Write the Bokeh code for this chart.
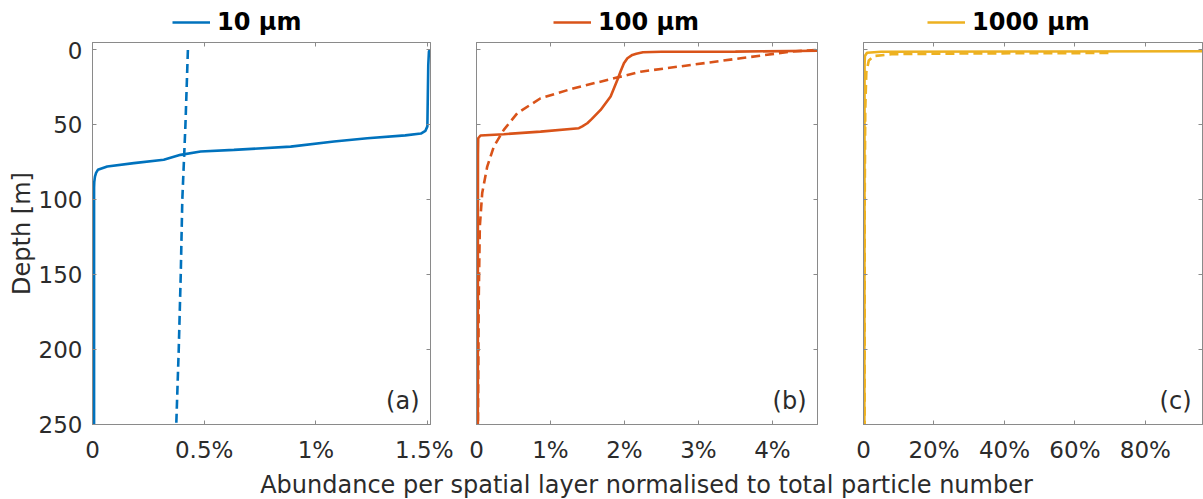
from bokeh.plotting import figure
from bokeh.models import (Range1d, FixedTicker, LinearAxis, Legend, LegendItem,
                          Label, Div, CustomJSTickFormatter)
from bokeh.layouts import row, column
from bokeh.embed import file_html
from bokeh.resources import INLINE

# ---------------- data (abundance in %, depth in m) ----------------
# (a) 10 um
a_solid_depth = [0, 1, 10, 30, 51, 54, 55.8, 57, 58.9, 61.1, 64.5, 66.7, 67.8, 70,
                 73.3, 75.5, 77.8, 80, 82, 84.5, 88, 92, 120, 180, 250]
a_solid_abund = [1.512, 1.506, 1.503, 1.501, 1.499, 1.49, 1.47, 1.40, 1.23, 1.081,
                 0.887, 0.633, 0.484, 0.394, 0.319, 0.185, 0.066, 0.024, 0.016,
                 0.011, 0.008, 0.007, 0.007, 0.007, 0.007]
a_dash_depth = [0, 50, 100, 150, 200, 250]
a_dash_abund = [0.427, 0.416, 0.402, 0.395, 0.386, 0.375]

# (b) 100 um
b_solid_depth = [0.5, 1.1, 1.2, 1.5, 2.5, 3.3, 5.5, 8.9, 14, 20, 31.1, 40, 46, 48.9,
                 51, 52.2, 54.5, 56.2, 57.1, 58.9, 70, 120, 250]
b_solid_abund = [4.61, 3.5, 2.5, 2.25, 2.16, 2.107, 2.04, 1.993, 1.95, 1.904, 1.813,
                 1.678, 1.56, 1.498, 1.43, 1.384, 0.866, 0.369, 0.054, 0.023,
                 0.02, 0.019, 0.018]
b_dash_depth = [0, 1.1, 5.5, 10, 14.5, 18.9, 25.5, 32.2, 42.2, 53.3, 64.5, 77.8,
                95.5, 117.8, 166.7, 250]
b_dash_abund = [4.587, 4.25, 3.572, 2.896, 2.219, 1.858, 1.317, 0.866, 0.551, 0.369,
                0.234, 0.145, 0.077, 0.045, 0.03, 0.02]

# (c) 1000 um
c_solid_depth = [0.8, 1.0, 1.2, 1.8, 4, 10, 250]
c_solid_abund = [96.2, 50, 5, 1.0, 0.4, 0.3, 0.25]
c_dash_depth = [2.0, 2.3, 2.8, 4, 7, 15, 40, 100, 250]
c_dash_abund = [69.5, 30, 8, 3, 1.5, 0.8, 0.5, 0.35, 0.3]

labels = ["10 μm", "100 μm", "1000 μm"]
panel_ids = ["(a)", "(b)", "(c)"]
x_max = [1.513, 4.61, 96.2]
x_ticks = [[0, 0.5, 1, 1.5], [0, 1, 2, 3, 4], [0, 20, 40, 60, 80]]
y_ticks = [0, 50, 100, 150, 200, 250]
y_top, y_bottom = -5, 250

colors = ["#0072BD", "#D95319", "#EDB120"]
FONT = "DejaVu Sans"
AX_COL = "#8a8a8a"
TXT_COL = "#2b2b2b"

y_range = Range1d(y_bottom, y_top)

specs = [
    dict(width=453, left=92, right=23, leg_x=80),
    dict(width=387, left=23, right=23, leg_x=77),
    dict(width=363, left=23, right=1, leg_x=64),
]
series = [
    (a_solid_abund, a_solid_depth, a_dash_abund, a_dash_depth),
    (b_solid_abund, b_solid_depth, b_dash_abund, b_dash_depth),
    (c_solid_abund, c_solid_depth, c_dash_abund, c_dash_depth),
]

pct_fmt = CustomJSTickFormatter(code="return tick == 0 ? '0' : tick + '%';")
blank_fmt = CustomJSTickFormatter(code="return '';")

LEG_H = 38


def style_axis(ax, labelled):
    ax.axis_line_color = AX_COL
    ax.major_tick_line_color = AX_COL
    ax.major_tick_in = 4
    ax.major_tick_out = 0
    ax.minor_tick_line_color = None
    ax.major_label_text_font = FONT
    ax.major_label_text_font_size = "23px"
    ax.major_label_text_color = TXT_COL
    if not labelled:
        ax.major_label_standoff = 0
        ax.major_label_text_font_size = "1px"


figs = []
legs = []
for i in range(3):
    s = specs[i]
    p = figure(width=s["width"], height=466 - LEG_H, x_range=Range1d(0, x_max[i]),
               y_range=y_range, output_backend="svg", toolbar_location=None,
               min_border_left=s["left"], min_border_right=s["right"],
               min_border_top=42 - LEG_H, min_border_bottom=42,
               x_axis_location=None, y_axis_location=None)
    p.grid.visible = False
    p.outline_line_color = AX_COL
    p.outline_line_width = 1
    p.background_fill_color = "white"
    p.border_fill_color = "white"

    # bottom
    xb = LinearAxis(ticker=FixedTicker(ticks=x_ticks[i]), formatter=pct_fmt)
    style_axis(xb, True)
    xb.major_label_standoff = 12
    p.add_layout(xb, "below")
    # top
    xt = LinearAxis(ticker=FixedTicker(ticks=x_ticks[i]), formatter=blank_fmt)
    style_axis(xt, False)
    p.add_layout(xt, "above")
    # left
    if i == 0:
        yl = LinearAxis(ticker=FixedTicker(ticks=y_ticks), axis_label="Depth [m]")
        style_axis(yl, True)
        yl.major_label_standoff = 10
        yl.axis_label_text_font = FONT
        yl.axis_label_text_font_size = "24px"
        yl.axis_label_text_font_style = "normal"
        yl.axis_label_text_color = TXT_COL
        yl.axis_label_standoff = 0
    else:
        yl = LinearAxis(ticker=FixedTicker(ticks=y_ticks), formatter=blank_fmt)
        style_axis(yl, False)
    p.add_layout(yl, "left")
    # right
    yr = LinearAxis(ticker=FixedTicker(ticks=y_ticks), formatter=blank_fmt)
    style_axis(yr, False)
    p.add_layout(yr, "right")

    sx, sy, dx, dy = series[i]
    p.line(sx, sy, line_color=colors[i], line_width=2.6)
    p.line(dx, dy, line_color=colors[i], line_width=2.6, line_dash="9 5")

    p.add_layout(Label(x=x_max[i], y=y_bottom, x_offset=-11, y_offset=10,
                       text=panel_ids[i], text_align="right", text_baseline="bottom",
                       text_font=FONT, text_font_size="24px", text_color=TXT_COL))
    figs.append(p)

    # legend strip above the panel; the key renderer shows the same series but
    # its data lie outside this strip's visible range, so only the legend shows
    q = figure(width=s["width"], height=LEG_H, x_range=Range1d(0, x_max[i]),
               y_range=Range1d(1000, 2000), output_backend="svg",
               toolbar_location=None,
               min_border_left=0, min_border_right=0, min_border_top=0,
               min_border_bottom=0, x_axis_location=None, y_axis_location=None)
    q.grid.visible = False
    q.outline_line_color = None
    q.background_fill_color = "white"
    q.border_fill_color = "white"
    r_key = q.line(sx, sy, line_color=colors[i], line_width=2.6)
    leg = Legend(items=[LegendItem(label=labels[i], renderers=[r_key])],
                 location=(s["left"] + s["leg_x"], 2), orientation="horizontal",
                 glyph_width=38, glyph_height=24, label_standoff=7,
                 padding=0, margin=0, spacing=0,
                 border_line_color=None, background_fill_alpha=0,
                 label_text_font=FONT, label_text_font_style="bold",
                 label_text_font_size="24px", label_text_color="black")
    q.add_layout(leg)
    legs.append(q)

xlabel = Div(
    text=('<div style="width:1203px;box-sizing:border-box;padding-left:90px;'
          'padding-top:5px;text-align:center;font-family:\'DejaVu Sans\';'
          'font-size:24px;line-height:29px;color:#2b2b2b;white-space:nowrap;">'
          'Abundance per spatial layer normalised to total particle number</div>'),
    width=1203, height=33, margin=(0, 0, 0, 0))

layout = column(row(*legs, spacing=0), row(*figs, spacing=0), xlabel, spacing=0)

open("out.html", "w").write(file_html(layout, INLINE))
